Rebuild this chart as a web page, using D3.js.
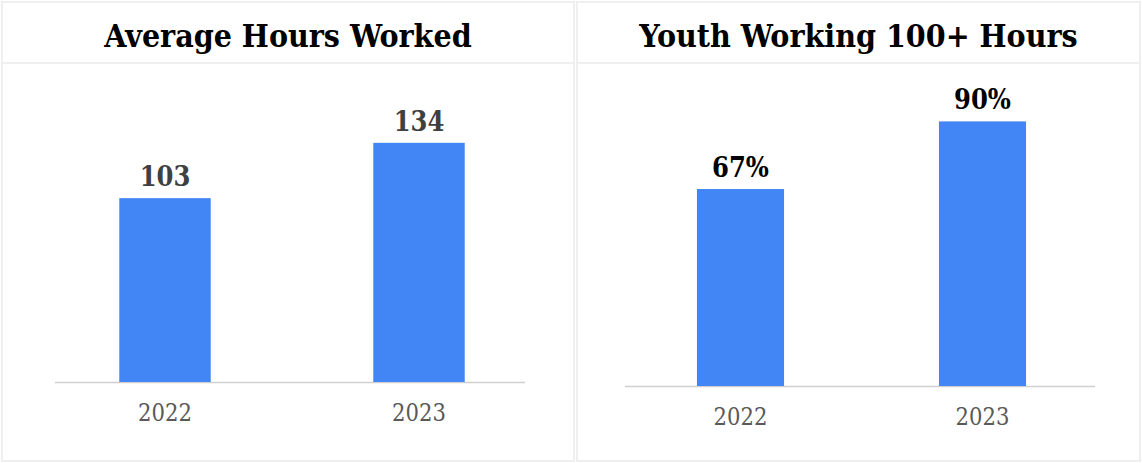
<!DOCTYPE html>
<html>
<head>
<meta charset="utf-8">
<script src="https://cdn.jsdelivr.net/npm/d3@7"></script>
<style>
  body { margin: 0; background: #fff; }
  svg { display: block; }
  .title { font-family: "DejaVu Serif Condensed", "DejaVu Serif", serif; font-weight: bold; font-stretch: condensed; fill: #000; }
  .tick-label { font-family: "DejaVu Serif Condensed", "DejaVu Serif", serif; font-stretch: condensed; fill: #595959; }
  .value-label { font-family: "DejaVu Serif Condensed", "DejaVu Serif", serif; font-weight: bold; font-stretch: condensed; }
</style>
</head>
<body>
<script>
// chart data
var years = ["2022", "2023"];
var avgHours = [103, 134];
var youthPct = [67, 90];
var titles = ["Average Hours Worked", "Youth Working 100+ Hours"];

var width = 1142, height = 463;

var svg = d3.select("body").append("svg")
    .attr("width", width)
    .attr("height", height);

// panel settings (layout only)
var panels = [
  {x0: 2, x1: 574, title: titles[0], values: avgHours, fmt: function(d){ return d; },
   yMax: 160, base: 382, top: 96.4, axisX: [55, 525], band: [38, 546], labelColor: "#404040", tickY: 421},
  {x0: 577, x1: 1140, title: titles[1], values: youthPct, fmt: function(d){ return d + "%"; },
   yMax: 100, base: 386, top: 92, axisX: [625, 1095], band: [619.5, 1103.5], labelColor: "#000", tickY: 425}
];

panels.forEach(function(p){
  var g = svg.append("g");

  // panel frame
  g.append("rect")
    .attr("x", p.x0).attr("y", 2)
    .attr("width", p.x1 - p.x0).attr("height", 459)
    .attr("fill", "#fff")
    .attr("stroke", "#efefef")
    .attr("stroke-width", 2);

  // title separator
  g.append("line")
    .attr("x1", p.x0).attr("x2", p.x1)
    .attr("y1", 63).attr("y2", 63)
    .attr("stroke", "#efefef")
    .attr("stroke-width", 2);

  // title
  g.append("text")
    .attr("class", "title")
    .attr("x", (p.x0 + p.x1) / 2)
    .attr("y", 47)
    .attr("text-anchor", "middle")
    .style("font-size", "31.8px")
    .text(p.title);

  var x = d3.scaleBand()
    .domain(years)
    .range(p.band)
    .paddingInner(0.64)
    .paddingOuter(0.32);

  var y = d3.scaleLinear()
    .domain([0, p.yMax])
    .range([p.base, p.top]);

  // baseline
  g.append("line")
    .attr("x1", p.axisX[0]).attr("x2", p.axisX[1])
    .attr("y1", p.base + 0.5).attr("y2", p.base + 0.5)
    .attr("stroke", "#d0d0d0")
    .attr("stroke-width", 1.5);

  // bars
  g.selectAll(".bar")
    .data(p.values)
    .enter()
    .append("rect")
    .attr("class", "bar")
    .attr("x", function(d, i){ return x(years[i]); })
    .attr("y", function(d){ return y(d); })
    .attr("width", x.bandwidth())
    .attr("height", function(d){ return y(0) - y(d); })
    .attr("fill", "#4285f4");

  // value labels
  g.selectAll(".value-label")
    .data(p.values)
    .enter()
    .append("text")
    .attr("class", "value-label")
    .attr("x", function(d, i){ return x(years[i]) + x.bandwidth() / 2; })
    .attr("y", function(d){ return y(d) - 12; })
    .attr("text-anchor", "middle")
    .style("font-size", "27px")
    .attr("fill", p.labelColor)
    .text(p.fmt);

  // x tick labels
  g.selectAll(".tick-label")
    .data(years)
    .enter()
    .append("text")
    .attr("class", "tick-label")
    .attr("x", function(d){ return x(d) + x.bandwidth() / 2; })
    .attr("y", p.tickY)
    .attr("text-anchor", "middle")
    .style("font-size", "23.5px")
    .text(function(d){ return d; });
});
</script>
</body>
</html>
